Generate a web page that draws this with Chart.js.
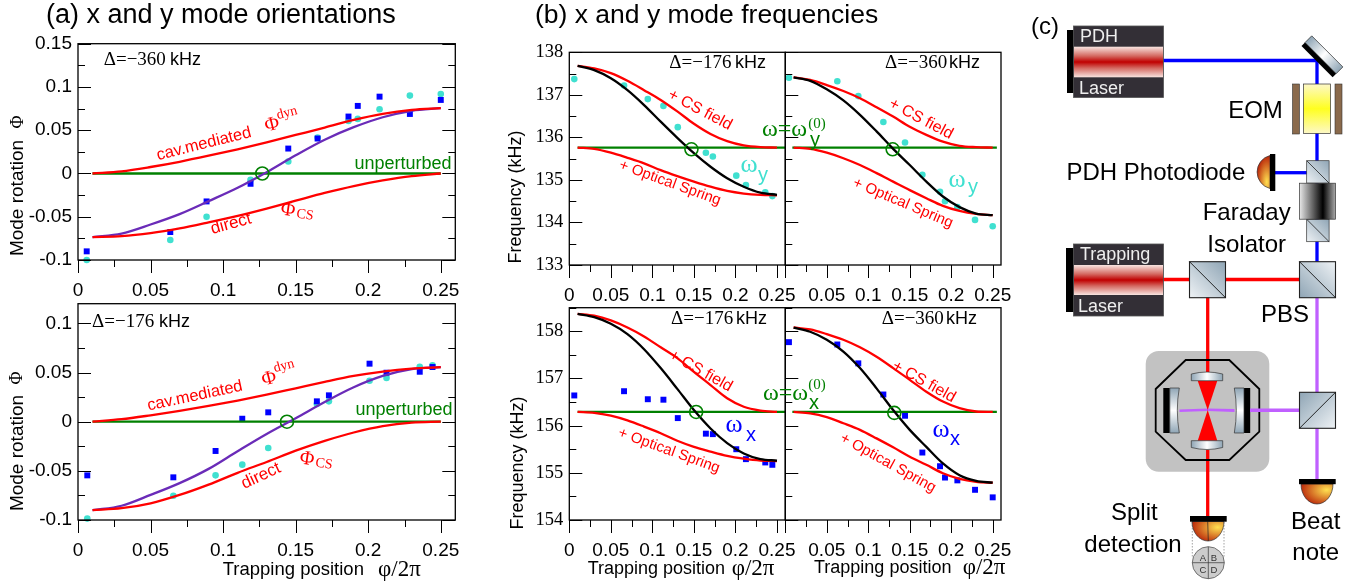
<!DOCTYPE html>
<html>
<head>
<meta charset="utf-8">
<title>Mode orientations and frequencies</title>
<script src="https://cdn.jsdelivr.net/npm/chart.js@4"></script>
<style>
  html, body { margin: 0; padding: 0; background: #fff; }
  #page { position: relative; width: 1355px; height: 586px; overflow: hidden; }
  #page canvas, #page svg { position: absolute; left: 0; top: 0; }
  svg text { font-family: "Liberation Sans", Arial, sans-serif; }
</style>
</head>
<body>
<div id="page">
  <canvas id="a1" width="1355" height="586"></canvas>
  <canvas id="a2" width="1355" height="586"></canvas>
  <canvas id="b1" width="1355" height="586"></canvas>
  <canvas id="b2" width="1355" height="586"></canvas>
  <canvas id="b3" width="1355" height="586"></canvas>
  <canvas id="b4" width="1355" height="586"></canvas>

  <!-- (c) the optical setup, not data -->
  <svg width="1355" height="586" viewBox="0 0 1355 586">
    <defs>
      <linearGradient id="laserBand" x1="0" y1="0" x2="0" y2="1">
        <stop offset="0" stop-color="#f8e4e0"/><stop offset="0.3" stop-color="#d46a62"/><stop offset="0.5" stop-color="#c00000"/><stop offset="0.7" stop-color="#d46a62"/><stop offset="1" stop-color="#f8e4e0"/>
      </linearGradient>
      <linearGradient id="cubeA" x1="1" y1="0" x2="0" y2="1">
        <stop offset="0" stop-color="#8fa5b5"/><stop offset="1" stop-color="#eef2f5"/>
      </linearGradient>
      <linearGradient id="cubeB" x1="0" y1="1" x2="1" y2="0">
        <stop offset="0" stop-color="#8fa5b5"/><stop offset="1" stop-color="#eef2f5"/>
      </linearGradient>
      <linearGradient id="cubeC" x1="0" y1="0" x2="1" y2="1">
        <stop offset="0" stop-color="#8fa5b5"/><stop offset="1" stop-color="#eef2f5"/>
      </linearGradient>
      <linearGradient id="eomFill" x1="0" y1="0" x2="0" y2="1">
        <stop offset="0" stop-color="#fdf8c8"/><stop offset="0.5" stop-color="#ffff20"/><stop offset="1" stop-color="#fdf8c8"/>
      </linearGradient>
      <linearGradient id="faradayFill" x1="0" y1="0" x2="1" y2="0">
        <stop offset="0" stop-color="#e8e8e8"/><stop offset="0.65" stop-color="#000"/><stop offset="1" stop-color="#aaa"/>
      </linearGradient>
      <linearGradient id="glassH" x1="0" y1="0" x2="1" y2="0">
        <stop offset="0" stop-color="#8fa5b5"/><stop offset="0.5" stop-color="#fff"/><stop offset="1" stop-color="#8fa5b5"/>
      </linearGradient>
      <linearGradient id="glassV" x1="0" y1="0" x2="0" y2="1">
        <stop offset="0" stop-color="#8fa5b5"/><stop offset="0.5" stop-color="#fff"/><stop offset="1" stop-color="#8fa5b5"/>
      </linearGradient>
      <radialGradient id="diodeL" cx="0.75" cy="0.8" r="0.9">
        <stop offset="0" stop-color="#ffe050"/><stop offset="1" stop-color="#b00c00"/>
      </radialGradient>
      <radialGradient id="diodeD" cx="0.8" cy="0.3" r="0.95">
        <stop offset="0" stop-color="#ffe050"/><stop offset="1" stop-color="#b00c00"/>
      </radialGradient>
    </defs>

    <text x="1031" y="34" font-size="24">(c)</text>

    <!-- beams -->
    <path d="M1163 60.5H1317V262" fill="none" stroke="#0000ff" stroke-width="3.3"/>
    <path d="M1275 172.7H1307" fill="none" stroke="#0000ff" stroke-width="3.3"/>
    <path d="M1163 279.5H1300" fill="none" stroke="#ff0000" stroke-width="3.3"/>
    <path d="M1207.7 297V517" fill="none" stroke="#ff0000" stroke-width="3.3"/>
    <path d="M1317 297V479" fill="none" stroke="#c060ff" stroke-width="3.3"/>

    <!-- PDH laser -->
    <rect x="1067" y="30" width="8" height="63" fill="#000"/>
    <rect x="1073.5" y="26" width="90" height="71.5" fill="#332f36" stroke="#555" stroke-width="0.8"/>
    <rect x="1074" y="46.7" width="89" height="30.6" fill="url(#laserBand)"/>
    <text x="1080" y="42" font-size="18" fill="#eee">PDH</text>
    <text x="1079" y="94" font-size="18" fill="#eee">Laser</text>

    <!-- trapping laser -->
    <rect x="1066" y="248" width="8" height="64" fill="#000"/>
    <rect x="1073.5" y="244" width="90" height="72" fill="#332f36" stroke="#555" stroke-width="0.8"/>
    <rect x="1074" y="265" width="89" height="30" fill="url(#laserBand)"/>
    <text x="1080" y="260" font-size="18" fill="#eee">Trapping</text>
    <text x="1078" y="311.5" font-size="18" fill="#eee">Laser</text>

    <!-- turning mirror -->
    <g transform="translate(1322.7 56) rotate(45)">
      <rect x="-22" y="-6.5" width="44" height="9.5" fill="url(#glassH)" stroke="#333" stroke-width="0.7"/>
      <rect x="-22" y="3" width="44" height="5" fill="#000"/>
    </g>

    <!-- EOM -->
    <rect x="1292.5" y="84" width="7" height="50" fill="#8a6a4c" stroke="#333" stroke-width="0.6"/>
    <rect x="1335" y="84" width="7" height="50" fill="#8a6a4c" stroke="#333" stroke-width="0.6"/>
    <rect x="1303.5" y="84" width="27" height="49.5" fill="url(#eomFill)" stroke="#333" stroke-width="0.7"/>
    <text x="1255.5" y="118" font-size="24" text-anchor="middle">EOM</text>

    <!-- PDH photodiode -->
    <text x="1066.5" y="180" font-size="24">PDH Photodiode</text>
    <path d="M1270 155.5A17 17 0 0 0 1270 188.5Z" fill="url(#diodeL)" stroke="#333" stroke-width="0.7"/>
    <rect x="1270" y="154" width="5.3" height="37" fill="#000"/>

    <!-- faraday isolator -->
    <rect x="1306.7" y="160.7" width="22.4" height="22.4" fill="url(#cubeA)" stroke="#333" stroke-width="0.7"/>
    <path d="M1306.7 160.7L1329.1 183.1" stroke="#222" stroke-width="0.8"/>
    <rect x="1306.7" y="219.3" width="22.4" height="22.4" fill="url(#cubeA)" stroke="#333" stroke-width="0.7"/>
    <path d="M1306.7 219.3L1329.1 241.7" stroke="#222" stroke-width="0.8"/>
    <rect x="1299.5" y="183.2" width="36" height="36" fill="url(#faradayFill)" stroke="#333" stroke-width="0.7"/>
    <text x="1246.7" y="220" font-size="24" text-anchor="middle">Faraday</text>
    <text x="1246.7" y="252" font-size="24" text-anchor="middle">Isolator</text>

    <!-- beam splitters -->
    <rect x="1189.5" y="261.7" width="36" height="36" fill="url(#cubeA)" stroke="#222" stroke-width="1.1"/>
    <path d="M1189.5 261.7L1225.5 297.7" stroke="#111" stroke-width="0.9"/>
    <rect x="1299.5" y="261.7" width="36" height="36" fill="url(#cubeB)" stroke="#222" stroke-width="1.1"/>
    <path d="M1299.5 261.7L1335.5 297.7" stroke="#111" stroke-width="0.9"/>
    <text x="1285" y="321.5" font-size="24" text-anchor="middle">PBS</text>

    <!-- cavity -->
    <rect x="1145.7" y="351" width="123.6" height="120.7" rx="13" fill="#c2c2c2"/>
    <path d="M1207.7 351V372" stroke="#ff0000" stroke-width="3.3"/>
    <path d="M1207.7 450V472" stroke="#ff0000" stroke-width="3.3"/>
    <polygon points="1185.7,360 1229.3,360 1259.3,389 1259.3,431.7 1229.3,460 1185.7,460 1155.7,431.7 1155.7,389" fill="none" stroke="#000" stroke-width="1.8"/>
    <polygon points="1179.5,409.5 1207.7,408.6 1234.5,409 1234.5,412 1207.7,411 1179.5,412" fill="#c060ff"/>
    <polygon points="1197.7,380.7 1217.3,380.7 1207.7,410" fill="#ff0000"/>
    <polygon points="1197.7,440.7 1217.3,440.7 1207.7,410" fill="#ff0000"/>
    <path d="M1191.3 374Q1207 370 1222.7 374V380.7H1191.3Z" fill="url(#glassH)" stroke="#333" stroke-width="0.7"/>
    <path d="M1191.3 447.5Q1207 451.5 1222.7 447.5V440.7H1191.3Z" fill="url(#glassH)" stroke="#333" stroke-width="0.7"/>
    <rect x="1163.3" y="388" width="6.5" height="45" fill="#000"/>
    <path d="M1169.8 388H1179.3Q1175.3 410 1179.3 433H1169.8Z" fill="url(#glassV)" stroke="#333" stroke-width="0.7"/>
    <rect x="1244" y="388" width="6.2" height="45" fill="#000"/>
    <path d="M1244 388H1234.3Q1238.3 410 1234.3 433H1244Z" fill="url(#glassV)" stroke="#333" stroke-width="0.7"/>
    <path d="M1250 410.3H1300" stroke="#c060ff" stroke-width="3.6"/>

    <rect x="1299.5" y="392.3" width="36" height="36" fill="url(#cubeC)" stroke="#222" stroke-width="1.1"/>
    <path d="M1299.5 428.3L1335.5 392.3" stroke="#111" stroke-width="0.9"/>

    <!-- beat note detector -->
    <path d="M1301 484A16 20 0 0 0 1333 484Z" fill="url(#diodeD)" stroke="#333" stroke-width="0.7"/>
    <rect x="1299" y="479" width="36.7" height="5.2" fill="#000"/>
    <text x="1315.7" y="528.5" font-size="24" text-anchor="middle">Beat</text>
    <text x="1315.7" y="560" font-size="24" text-anchor="middle">note</text>

    <!-- split detector -->
    <path d="M1192 521.5A16 19.5 0 0 0 1224 521.5Z" fill="url(#diodeD)" stroke="#333" stroke-width="0.7"/>
    <path d="M1207.7 521.5L1208.3 541" stroke="#222" stroke-width="0.7"/>
    <rect x="1190" y="516" width="36.7" height="5.7" fill="#000"/>
    <path d="M1192.3 522V558M1224 522V558" stroke="#444" stroke-width="0.5" stroke-dasharray="1.5 1.5" fill="none"/>
    <circle cx="1208.3" cy="562.7" r="16" fill="#ccc" stroke="#555" stroke-width="0.8"/>
    <path d="M1208.3 546.7V578.7M1192.3 562.7H1224.3" stroke="#333" stroke-width="0.7"/>
    <text x="1203" y="561" font-size="9.5" fill="#333" text-anchor="middle">A</text>
    <text x="1214" y="561" font-size="9.5" fill="#333" text-anchor="middle">B</text>
    <text x="1203" y="572.5" font-size="9.5" fill="#333" text-anchor="middle">C</text>
    <text x="1214" y="572.5" font-size="9.5" fill="#333" text-anchor="middle">D</text>
    <text x="1134.3" y="520" font-size="24" text-anchor="middle">Split</text>
    <text x="1133" y="552" font-size="24" text-anchor="middle">detection</text>
  </svg>
</div>

<script>
// values
const curveX = [0.01, 0.03, 0.05, 0.07, 0.09, 0.11, 0.13, 0.15, 0.17, 0.19, 0.21, 0.23, 0.25];

// (a) top, detuning -360 kHz
const a1Dyn = [0, 0.0025, 0.0075, 0.0135, 0.0205, 0.028, 0.036, 0.0445, 0.053, 0.062, 0.069, 0.0735, 0.0755];
const a1Cs = [-0.0735, -0.0725, -0.069, -0.0635, -0.0565, -0.049, -0.0405, -0.0315, -0.0225, -0.0145, -0.008, -0.003, 0];
const a1Fit = [-0.0735, -0.0695, -0.059, -0.047, -0.032, -0.0165, 0.0015, 0.021, 0.039, 0.0535, 0.065, 0.0725, 0.0755];
const a1X = [0.006, 0.0636, 0.0886, 0.1189, 0.1449, 0.1651, 0.1864, 0.1928, 0.2078, 0.2287, 0.25];
const a1Blue = [-0.09, -0.0677, -0.0323, -0.0119, 0.0288, 0.0404, 0.0658, 0.0781, 0.0888, 0.0688, 0.085];
const a1Cyan = [-0.1, -0.0769, -0.05, -0.0073, 0.0138, 0.0415, 0.0608, 0.0631, 0.0742, 0.09, 0.0919];

// (a) bottom, detuning -176 kHz
const a2Dyn = [0, 0.0025, 0.0065, 0.011, 0.016, 0.0215, 0.0275, 0.034, 0.0405, 0.0465, 0.051, 0.054, 0.0555];
const a2Cs = [-0.09, -0.088, -0.083, -0.0745, -0.064, -0.052, -0.041, -0.0295, -0.0195, -0.011, -0.0045, -0.001, 0];
const a2Fit = [-0.09, -0.0855, -0.0745, -0.0625, -0.048, -0.03, -0.0125, 0.0035, 0.02, 0.035, 0.0465, 0.0535, 0.0555];
const a2X = [0.0064, 0.0657, 0.0948, 0.1132, 0.1311, 0.1646, 0.1729, 0.2009, 0.2126, 0.2355, 0.2443];
const a2Blue = [-0.0546, -0.0566, -0.0298, 0.003, 0.0095, 0.0207, 0.0268, 0.059, 0.0498, 0.0508, 0.0556];
const a2Cyan = [-0.0986, -0.0753, -0.0546, -0.0437, -0.0268, 0.018, 0.0207, 0.0417, 0.0444, 0.0559, 0.0573];

// (b) measured positions, left and right column
const bLeftX = [0.006, 0.0659, 0.0945, 0.1133, 0.1306, 0.1644, 0.1728, 0.201, 0.2126, 0.2359, 0.2444];
const bRightX = [0.0044, 0.0627, 0.088, 0.1182, 0.1443, 0.1652, 0.1865, 0.1925, 0.2074, 0.2287, 0.25];

// (b) y mode, -176 kHz
const b1Cs = [137.68, 137.62, 137.51, 137.33, 137.11, 136.88, 136.61, 136.32, 136.08, 135.91, 135.81, 135.77, 135.76];
const b1Fit = [137.68, 137.58, 137.39, 137.11, 136.76, 136.37, 135.99, 135.63, 135.31, 135.04, 134.84, 134.70, 134.65];
const b1Spring = [135.76, 135.73, 135.64, 135.52, 135.39, 135.23, 135.09, 134.96, 134.84, 134.74, 134.68, 134.65, 134.64];
const b1Data = [137.37, 137.22, 136.90, 136.74, 136.24, 135.64, 135.55, 135.10, 134.88, 134.71, 134.62];

// (b) y mode, -360 kHz
const b2Cs = [137.41, 137.35, 137.23, 137.09, 136.92, 136.71, 136.49, 136.25, 136.06, 135.90, 135.80, 135.77, 135.76];
const b2Fit = [137.41, 137.33, 137.13, 136.87, 136.53, 136.14, 135.73, 135.35, 134.96, 134.61, 134.36, 134.21, 134.17];
const b2Spring = [135.76, 135.73, 135.64, 135.51, 135.35, 135.16, 134.96, 134.76, 134.57, 134.39, 134.27, 134.20, 134.17];
const b2Data = [137.40, 137.32, 136.97, 136.36, 135.88, 135.12, 134.72, 134.50, 134.36, 134.06, 133.91];

// (b) x mode, -176 kHz
const b3Cs = [158.37, 158.33, 158.23, 158.08, 157.89, 157.66, 157.43, 157.14, 156.86, 156.58, 156.40, 156.32, 156.29];
const b3Fit = [158.37, 158.30, 158.16, 157.94, 157.62, 157.22, 156.78, 156.33, 155.94, 155.63, 155.41, 155.29, 155.26];
const b3Spring = [156.29, 156.27, 156.21, 156.11, 155.98, 155.84, 155.68, 155.55, 155.45, 155.36, 155.30, 155.26, 155.25];
const b3Data = [156.64, 156.73, 156.56, 156.55, 156.16, 155.83, 155.82, 155.50, 155.29, 155.22, 155.17];

// (b) x mode, -360 kHz
const b4Cs = [158.08, 158.04, 157.94, 157.82, 157.66, 157.46, 157.22, 156.97, 156.72, 156.51, 156.37, 156.30, 156.29];
const b4Fit = [158.08, 157.99, 157.82, 157.57, 157.22, 156.79, 156.33, 155.91, 155.55, 155.20, 154.95, 154.83, 154.79];
const b4Spring = [156.29, 156.26, 156.18, 156.05, 155.91, 155.73, 155.54, 155.34, 155.17, 154.99, 154.87, 154.81, 154.79];
const b4Data = [157.77, 157.72, 157.32, 156.66, 156.21, 155.43, 155.14, 154.90, 154.84, 154.64, 154.48];

const GREEN = '#008000', RED = '#ff0000', PURPLE = '#6a2bb8', BLUE = '#0000ff', CYAN = '#40e0d0';
const SANS = 'Liberation Sans';

function zip(xs, ys) {
    return xs.map((x, i) => ({ x: x, y: ys[i] }));
}

function curve(label, xs, ys, color) {
    return {
        label: label, data: zip(xs, ys), borderColor: color, backgroundColor: color,
        showLine: true, borderWidth: 2.3, pointRadius: 0, cubicInterpolationMode: 'monotone', clip: false
    };
}

function dots(label, xs, ys, color, style) {
    return {
        label: label, data: zip(xs, ys), showLine: false, borderColor: color, backgroundColor: color,
        pointStyle: style, pointRadius: style === 'rect' ? 4.2 : 3.3, pointBorderWidth: 0, clip: false
    };
}

function ring(x, y) {
    return {
        label: 'crossing', data: [{ x: x, y: y }], showLine: false, pointStyle: 'circle', pointRadius: 6.5,
        pointBorderColor: GREEN, pointBackgroundColor: 'rgba(0,0,0,0)', pointBorderWidth: 1.6, clip: false
    };
}

// text goes through here so the whole figure shares one drawing call
function text(ctx, str, x, y, font, color, rot, align) {
    ctx.save();
    ctx.translate(x, y);
    if (rot) ctx.rotate(rot * Math.PI / 180);
    ctx.font = font;
    ctx.fillStyle = color || '#000';
    ctx.textAlign = align || 'left';
    ctx.textBaseline = 'middle';
    ctx.fillText(str, 0, 0);
    ctx.restore();
}

function isMajor(v, step) {
    return Math.abs(v / step - Math.round(v / step)) < 1e-6;
}

// frame and tick marks: inward on y, outward on x
const framePlugin = {
    id: 'frame',
    afterDraw(chart, args, opts) {
        const c = chart.ctx, a = chart.chartArea, sx = chart.scales.x, sy = chart.scales.y;
        c.save();
        c.strokeStyle = '#000';
        c.lineWidth = 1;
        c.beginPath();
        sx.ticks.forEach(t => {
            const p = Math.round(sx.getPixelForValue(t.value)) + 0.5;
            c.moveTo(p, a.bottom);
            c.lineTo(p, a.bottom + (isMajor(t.value, opts.xMajor) ? 13 : 7));
        });
        sy.ticks.forEach(t => {
            const p = Math.round(sy.getPixelForValue(t.value)) + 0.5;
            const len = isMajor(t.value, opts.yMajor) ? 13 : 7;
            c.moveTo(a.left, p);
            c.lineTo(a.left + len, p);
            if (opts.rightTicks) {
                c.moveTo(a.right, p);
                c.lineTo(a.right - len, p);
            }
        });
        c.stroke();
        c.lineWidth = 1.3;
        c.strokeRect(a.left, a.top, a.right - a.left, a.bottom - a.top);
        c.restore();
        // frequency panels have serif numbers on y
        if (opts.serifTicks) {
            sy.ticks.forEach(t => {
                if (t.label) text(c, t.label, a.left - 6, sy.getPixelForValue(t.value), '18.5px ' + serifF, '#000', 0, 'right');
            });
        }
        opts.notes(c);
    }
};

function panel(id, box, ys, conf) {
    new Chart(document.getElementById(id), {
        type: 'scatter',
        data: { datasets: conf.datasets },
        plugins: [framePlugin],
        options: {
            responsive: false,
            animation: false,
            devicePixelRatio: 1,
            layout: { autoPadding: false, padding: { left: 0, top: box.top, right: 1355 - box.right, bottom: 0 } },
            plugins: {
                legend: { display: false },
                tooltip: { enabled: false },
                frame: { xMajor: 0.05, yMajor: conf.yMajor, rightTicks: conf.rightTicks, serifTicks: conf.serifTicks, notes: conf.notes }
            },
            scales: {
                x: {
                    type: 'linear', min: 0, max: 0.26, position: 'bottom',
                    grid: { display: false, drawTicks: false }, border: { display: false },
                    afterFit: s => { s.height = 586 - box.bottom; },
                    ticks: {
                        stepSize: 0.025, includeBounds: false, autoSkip: false, maxRotation: 0, padding: 19,
                        color: '#000', font: { family: SANS, size: 19 },
                        callback: v => {
                            if (!isMajor(v, 0.05)) return '';
                            if (conf.hideZero && Math.abs(v) < 1e-6) return '';
                            return String(Number(v.toFixed(3)));
                        }
                    }
                },
                y: {
                    type: 'linear', min: ys[0], max: ys[1], position: 'left',
                    grid: { display: false, drawTicks: false }, border: { display: false },
                    afterFit: s => { s.width = box.left; },
                    ticks: {
                        display: !conf.serifTicks,
                        stepSize: conf.yStep, includeBounds: false, autoSkip: false, padding: 6,
                        color: '#000', font: { family: SANS, size: 19 },
                        callback: v => {
                            if (conf.hideY || !isMajor(v, conf.yMajor)) return '';
                            return String(Number(v.toFixed(3)));
                        }
                    }
                }
            }
        }
    });
}

function orientation(id, box, ys, dyn, cs, fit, px, blue, cyan, cross, notes) {
    panel(id, box, ys, {
        datasets: [
            ring(cross, 0),
            curve('cav. mediated', curveX, dyn, RED),
            curve('direct', curveX, cs, RED),
            curve('total', curveX, fit, PURPLE),
            curve('unperturbed', [0.01, 0.25], [0, 0], GREEN),
            dots('x mode', px, blue, BLUE, 'rect'),
            dots('y mode', px, cyan, CYAN, 'circle')
        ],
        yStep: 0.025, yMajor: 0.05, rightTicks: true, notes: notes
    });
}

function frequency(id, box, ys, right, cs, fit, spring, px, measured, color, style, cross, base, notes) {
    panel(id, box, ys, {
        datasets: [
            ring(cross[0], cross[1]),
            curve('fit', curveX, fit, '#000'),
            curve('+ CS field', curveX, cs, RED),
            curve('+ Optical Spring', curveX, spring, RED),
            curve('unperturbed', right ? [0.0085, 0.255] : [0.01, 0.26], [base, base], GREEN),
            dots('measured', px, measured, color, style)
        ],
        yStep: 0.5, yMajor: 1, serifTicks: true, rightTicks: false, hideZero: right, hideY: right, notes: notes
    });
}

const boxA1 = { left: 78, right: 455.3, top: 43.7, bottom: 260 };
const boxA2 = { left: 78, right: 455.3, top: 303.7, bottom: 520 };
const boxB1 = { left: 569.3, right: 785.3, top: 52.3, bottom: 265 };
const boxB2 = { left: 785.3, right: 1001, top: 52.3, bottom: 265 };
const boxB3 = { left: 569.3, right: 785.3, top: 307.7, bottom: 520 };
const boxB4 = { left: 785.3, right: 1001, top: 307.7, bottom: 520 };

const sansF = '"Liberation Sans", Arial, sans-serif';
const serifF = '"Liberation Serif", "Times New Roman", serif';
const s18 = '18px ' + sansF, s17 = '17px ' + sansF, s16 = '16px ' + sansF, s15 = '15px ' + sansF, s19 = '19px ' + sansF;
const f20 = '20px ' + serifF, f14 = '14px ' + serifF;

function detuning(c, value, x, y, kHzX) {
    text(c, 'Δ=−' + value, x, y, '19px ' + serifF);
    text(c, 'kHz', kHzX, y, s18);
}

orientation('a1', boxA1, [-0.1, 0.15], a1Dyn, a1Cs, a1Fit, a1X, a1Blue, a1Cyan, 0.127, c => {
    text(c, '(a) x and y mode orientations', 46, 16, '27px ' + sansF);
    detuning(c, '360', 103.7, 60, 170);
    text(c, 'cav.mediated', 204, 144, '16.5px ' + sansF, RED, -14, 'center');
    text(c, 'Φ', 272, 125, f20, RED, -14, 'center');
    text(c, 'dyn', 287, 113, f14, RED, -15, 'center');
    text(c, 'unperturbed', 403, 164, s18, GREEN, 0, 'center');
    text(c, 'direct', 231, 224, s17, RED, -15, 'center');
    text(c, 'Φ', 288, 210, f20, RED, 8, 'center');
    text(c, 'CS', 305, 215, f14, RED, 8, 'center');
    text(c, 'Mode rotation', 18, 198, s19, '#000', -90, 'center');
    text(c, 'Φ', 18, 122, '18px ' + serifF, '#000', -90, 'center');
});

orientation('a2', boxA2, [-0.1, 0.12], a2Dyn, a2Cs, a2Fit, a2X, a2Blue, a2Cyan, 0.144, c => {
    detuning(c, '176', 92, 322, 159);
    text(c, 'cav.mediated', 195, 396, '16.5px ' + sansF, RED, -12, 'center');
    text(c, 'Φ', 269, 379, f20, RED, -14, 'center');
    text(c, 'dyn', 284, 366, f14, RED, -15, 'center');
    text(c, 'unperturbed', 404, 410, s18, GREEN, 0, 'center');
    text(c, 'direct', 261, 476, s17, RED, -25, 'center');
    text(c, 'Φ', 307, 459, f20, RED, 8, 'center');
    text(c, 'CS', 324, 464, f14, RED, 8, 'center');
    text(c, 'Mode rotation', 17.3, 453, s19, '#000', -90, 'center');
    text(c, 'Φ', 17.3, 378, '18px ' + serifF, '#000', -90, 'center');
    text(c, 'Trapping position', 222.7, 570, '18.5px ' + sansF);
    text(c, 'φ/2π', 378, 570, '23px ' + serifF);
});

frequency('b1', boxB1, [133, 138], false, b1Cs, b1Fit, b1Spring, bLeftX, b1Data, CYAN, 'circle', [0.147, 135.72], 135.76, c => {
    text(c, '(b) x and y mode frequencies', 535, 16, '26.5px ' + sansF);
    text(c, 'Frequency (kHz)', 516, 197, s18, '#000', -90, 'center');
    detuning(c, '176', 669.3, 63, 735);
    text(c, '+ CS field', 700, 110, s16, RED, 28, 'center');
    text(c, '+ Optical Spring', 670, 183, s15, RED, 20, 'center');
    text(c, 'ω', 749, 165, '26px ' + serifF, CYAN, 0, 'center');
    text(c, 'y', 763, 175, '20px ' + sansF, CYAN, 0, 'center');
});

frequency('b2', boxB2, [133, 138], true, b2Cs, b2Fit, b2Spring, bRightX, b2Data, CYAN, 'circle', [0.1294, 135.72], 135.76, c => {
    detuning(c, '360', 885, 63, 949);
    text(c, '+ CS field', 921, 119, s16, RED, 28, 'center');
    text(c, '+ Optical Spring', 903, 203, s15, RED, 23, 'center');
    text(c, 'ω', 957, 180, '26px ' + serifF, CYAN, 0, 'center');
    text(c, 'y', 973, 187, '20px ' + sansF, CYAN, 0, 'center');
    text(c, 'ω=ω', 762, 130, '24px ' + serifF, GREEN);
    text(c, 'y', 815, 140, '20px ' + sansF, GREEN, 0, 'center');
    text(c, '(0)', 817, 124, '15px ' + serifF, GREEN, 0, 'center');
});

frequency('b3', boxB3, [154, 158.5], false, b3Cs, b3Fit, b3Spring, bLeftX, b3Data, BLUE, 'rect', [0.1527, 156.29], 156.29, c => {
    text(c, 'Frequency (kHz)', 518, 463, s18, '#000', -90, 'center');
    detuning(c, '176', 671, 319, 736);
    text(c, '+ CS field', 700.7, 371, s16, RED, 29, 'center');
    text(c, '+ Optical Spring', 669, 450.7, s15, RED, 20, 'center');
    text(c, 'ω', 734, 425, '26px ' + serifF, BLUE, 0, 'center');
    text(c, 'x', 751, 435, '20px ' + sansF, BLUE, 0, 'center');
    text(c, 'Trapping position', 587.7, 569, s18);
    text(c, 'φ/2π', 731.7, 569, '23px ' + serifF);
});

frequency('b4', boxB4, [154, 158.5], true, b4Cs, b4Fit, b4Spring, bRightX, b4Data, BLUE, 'rect', [0.1314, 156.27], 156.29, c => {
    detuning(c, '360', 881.7, 319, 946);
    text(c, '+ CS field', 924, 381.7, s16, RED, 29, 'center');
    text(c, '+ Optical Spring', 888, 463, s15, RED, 29, 'center');
    text(c, 'ω', 941, 430, '26px ' + serifF, BLUE, 0, 'center');
    text(c, 'x', 955, 439, '20px ' + sansF, BLUE, 0, 'center');
    text(c, 'ω=ω', 763, 394, '24px ' + serifF, GREEN);
    text(c, 'x', 814, 403, '20px ' + sansF, GREEN, 0, 'center');
    text(c, '(0)', 817, 385, '15px ' + serifF, GREEN, 0, 'center');
    text(c, 'Trapping position', 814, 567.7, s18);
    text(c, 'φ/2π', 962.7, 567.7, '23px ' + serifF);
});
</script>
</body>
</html>
